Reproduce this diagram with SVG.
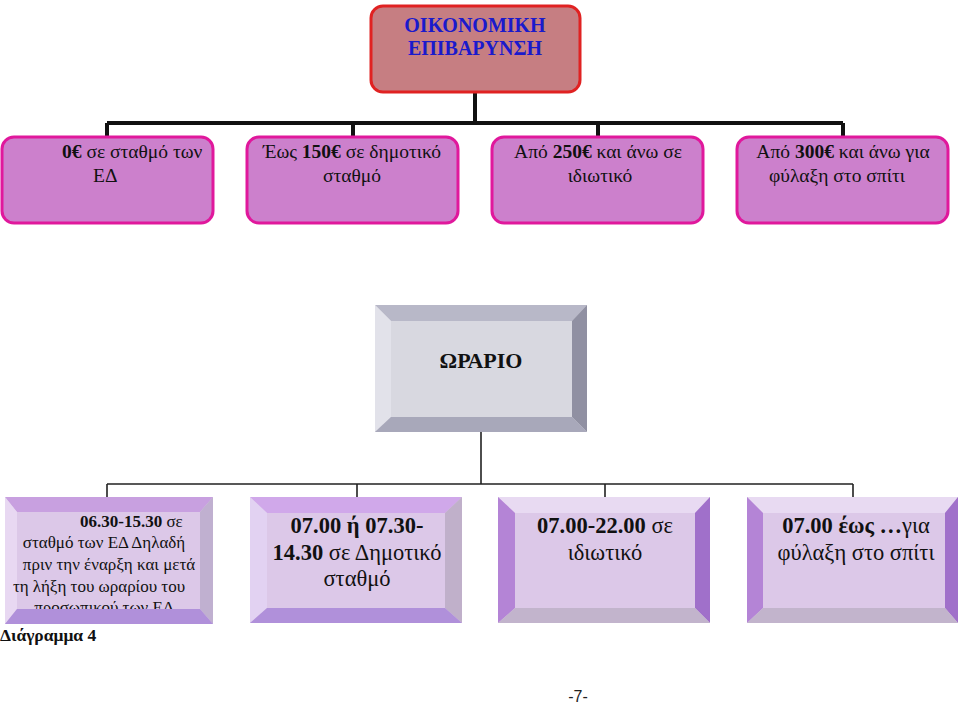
<svg xmlns="http://www.w3.org/2000/svg" width="960" height="706" viewBox="0 0 960 706">
<style>
.t{font-family:"Liberation Serif","DejaVu Serif Condensed","DejaVu Serif",serif;fill:#111}
.b{font-weight:bold}
.cost{fill:#CC80CC;stroke:#E0189C;stroke-width:3}
.thick{stroke:#111;stroke-width:4;fill:none}
.thin{stroke:#222;stroke-width:1.6;fill:none}
</style>
<defs>
<clipPath id="c1"><rect x="0" y="497" width="230" height="112"/></clipPath>
</defs>
<g id="connectors">
<path class="thick" d="M475,92 V123 M107,123 H843 M107,123 V137 M353,123 V137 M598,123 V137 M843,123 V137"/>
<path class="thin" d="M481,432 V484 M107,484 H853 M107,484 V497 M357,484 V497 M605,484 V497 M853,484 V497"/>
</g>
<g id="cost-title">
<rect x="371" y="6" width="209" height="86" rx="12" fill="#C67E82" stroke="#E02222" stroke-width="3"/>
<text class="t b" x="475" y="32" font-size="20" text-anchor="middle" style="fill:#1A1ACC">ΟΙΚΟΝΟΜΙΚΗ</text>
<text class="t b" x="475" y="55" font-size="20" text-anchor="middle" style="fill:#1A1ACC">ΕΠΙΒΑΡΥΝΣΗ</text>
</g>
<g id="cost1">
<rect class="cost" x="2" y="137" width="211" height="86" rx="12"/>
<text class="t" x="62" y="158" font-size="19.5"><tspan class="b">0€</tspan> σε σταθμό των</text>
<text class="t" x="93" y="182" font-size="19.5">ΕΔ</text>
</g>
<g id="cost2">
<rect class="cost" x="247" y="137" width="211" height="86" rx="12"/>
<text class="t" x="352" y="158" font-size="19.5" text-anchor="middle">Έως <tspan class="b">150€</tspan> σε δημοτικό</text>
<text class="t" x="352" y="182" font-size="19.5" text-anchor="middle">σταθμό</text>
</g>
<g id="cost3">
<rect class="cost" x="492" y="137" width="211" height="86" rx="12"/>
<text class="t" x="598" y="158" font-size="19.5" text-anchor="middle">Από <tspan class="b">250€</tspan> και άνω σε</text>
<text class="t" x="600" y="182" font-size="19.5" text-anchor="middle">ιδιωτικό</text>
</g>
<g id="cost4">
<rect class="cost" x="737" y="137" width="211" height="86" rx="12"/>
<text class="t" x="843" y="158" font-size="19.5" text-anchor="middle">Από <tspan class="b">300€</tspan> και άνω για</text>
<text class="t" x="837" y="182" font-size="19.5" text-anchor="middle">φύλαξη στο σπίτι</text>
</g>
<g id="schedule">
<rect x="375" y="305" width="212" height="127" fill="#D8D8E0"/>
<polygon points="375,305 587,305 572,321 391,321" fill="#B8B8C8"/>
<polygon points="375,305 391,321 391,417 375,432" fill="#E2E2EA"/>
<polygon points="587,305 587,432 572,417 572,321" fill="#9090A2"/>
<polygon points="375,432 391,417 572,417 587,432" fill="#A8A8BA"/>
<text class="t b" x="481" y="368" font-size="22" text-anchor="middle">ΩΡΑΡΙΟ</text>
</g>
<g id="hours1">
<rect x="5" y="497" width="208" height="127" fill="#DCC8E8"/>
<polygon points="5,497 213,497 200,512 17,512" fill="#C8A0E0"/>
<polygon points="5,497 17,512 17,609 5,624" fill="#E8D8F2"/>
<polygon points="213,497 213,624 200,609 200,512" fill="#C0B0D0"/>
<polygon points="5,624 17,609 200,609 213,624" fill="#B090DA"/>
<g clip-path="url(#c1)">
<text class="t" x="80" y="527" font-size="17"><tspan class="b">06.30-15.30</tspan> σε</text>
<text class="t" x="104" y="548" font-size="17" text-anchor="middle">σταθμό των ΕΔ Δηλαδή</text>
<text class="t" x="109" y="570" font-size="17" text-anchor="middle">πριν την έναρξη και μετά</text>
<text class="t" x="99" y="592" font-size="17" text-anchor="middle">τη λήξη του ωραρίου του</text>
<text class="t" x="104" y="613" font-size="17" text-anchor="middle">προσωπικού των ΕΔ</text>
</g>
<text class="t b" x="0" y="641" font-size="17.5">Διάγραμμα 4</text>
</g>
<g id="hours2">
<rect x="250" y="497" width="212" height="126" fill="#DCC8E8"/>
<polygon points="250,497 462,497 445,513 267,513" fill="#D0A8EA"/>
<polygon points="250,497 267,513 267,608 250,623" fill="#E2D2F2"/>
<polygon points="462,497 462,623 445,608 445,513" fill="#C0B0CA"/>
<polygon points="250,623 267,608 445,608 462,623" fill="#B090DA"/>
<text class="t" x="357" y="533" font-size="22.5" text-anchor="middle"><tspan class="b">07.00 ή 07.30-</tspan></text>
<text class="t" x="357" y="560" font-size="22.5" text-anchor="middle"><tspan class="b">14.30</tspan> σε Δημοτικό</text>
<text class="t" x="357" y="586" font-size="22.5" text-anchor="middle">σταθμό</text>
</g>
<g id="hours3">
<rect x="498" y="497" width="212" height="126" fill="#DCC8E8"/>
<polygon points="498,497 710,497 695,513 515,513" fill="#E8DAF2"/>
<polygon points="498,497 515,513 515,608 498,623" fill="#B484D6"/>
<polygon points="710,497 710,623 695,608 695,513" fill="#A070CA"/>
<polygon points="498,623 515,608 695,608 710,623" fill="#C2B4CC"/>
<text class="t" x="605" y="533" font-size="22.5" text-anchor="middle"><tspan class="b">07.00-22.00</tspan> σε</text>
<text class="t" x="605" y="560" font-size="22.5" text-anchor="middle">ιδιωτικό</text>
</g>
<g id="hours4">
<rect x="747" y="497" width="211" height="126" fill="#DCC8E8"/>
<polygon points="747,497 958,497 945,513 763,513" fill="#E8DAF2"/>
<polygon points="747,497 763,513 763,608 747,623" fill="#B484D6"/>
<polygon points="958,497 958,623 945,608 945,513" fill="#A070CA"/>
<polygon points="747,623 763,608 945,608 958,623" fill="#C2B4CC"/>
<text class="t" x="856" y="533" font-size="22.5" text-anchor="middle"><tspan class="b">07.00 έως …</tspan>για</text>
<text class="t" x="856" y="560" font-size="22.5" text-anchor="middle">φύλαξη στο σπίτι</text>
</g>
<text x="578" y="702" font-size="16" text-anchor="middle" font-family="Liberation Sans, Arial, sans-serif" fill="#222">-7-</text>
</svg>
